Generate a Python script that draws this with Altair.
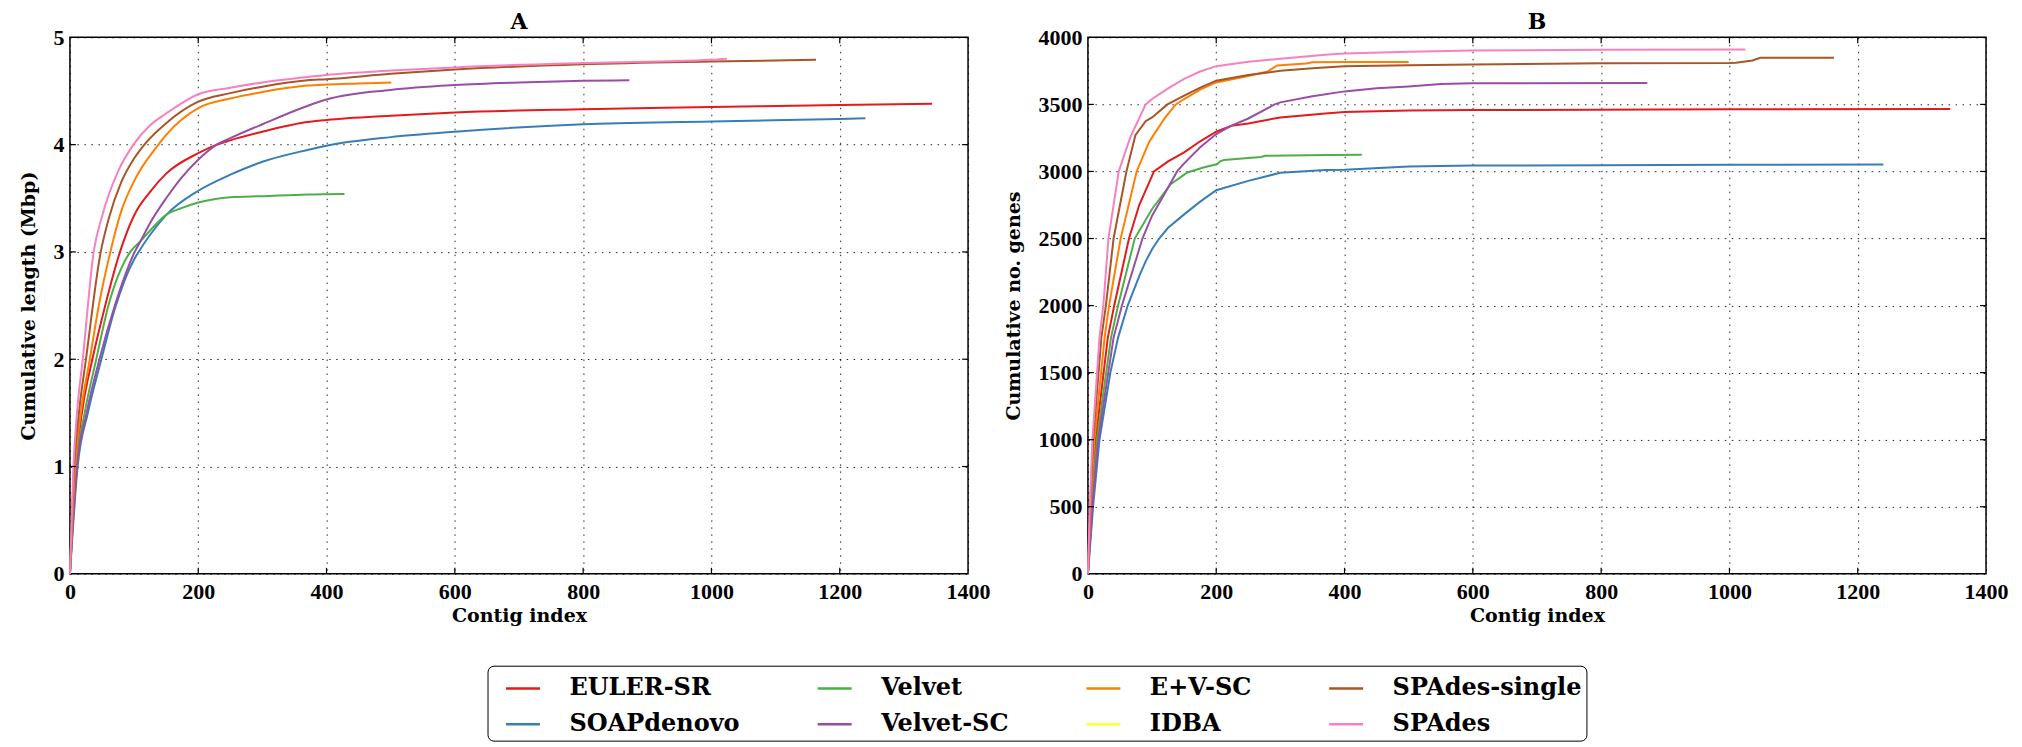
import altair as alt
import pandas as pd

# ---------------- legend / series ----------------
ASSEMBLERS = ["EULER-SR", "SOAPdenovo", "Velvet", "Velvet-SC", "E+V-SC", "IDBA", "SPAdes-single", "SPAdes"]
COLORS = {
    "EULER-SR": "#e41a1c", "SOAPdenovo": "#377eb8", "Velvet": "#4daf4a", "Velvet-SC": "#984ea3",
    "E+V-SC": "#ff7f00", "IDBA": "#ffff33", "SPAdes-single": "#a65628", "SPAdes": "#f781bf",
}

# ---------------- panel A: cumulative length (Mbp) ----------------
A_euler_x = [0, 9, 20, 35, 50, 78, 100, 125, 150, 200, 229, 250, 300, 370, 400, 500, 600, 800, 1000, 1200, 1344]
A_euler_y = [0, 1.0, 1.55, 2.0, 2.38, 3.0, 3.34, 3.56, 3.73, 3.92, 4.0, 4.04, 4.12, 4.21, 4.23, 4.27, 4.30, 4.33, 4.35, 4.37, 4.38]
A_soap_x = [0, 12, 28, 49, 70, 100, 107, 125, 151, 200, 250, 300, 370, 400, 500, 600, 800, 1000, 1200, 1240]
A_soap_y = [0, 1.0, 1.5, 2.0, 2.47, 2.93, 3.0, 3.16, 3.35, 3.57, 3.72, 3.84, 3.95, 3.99, 4.07, 4.12, 4.19, 4.215, 4.24, 4.245]
A_velvet_x = [0, 10, 23, 41, 60, 94, 110, 125, 151, 175, 200, 250, 300, 370, 428]
A_velvet_y = [0, 1.0, 1.5, 2.0, 2.5, 3.0, 3.1, 3.2, 3.35, 3.41, 3.46, 3.51, 3.52, 3.535, 3.54]
A_vsc_x = [0, 11, 26, 46, 70, 101, 110, 125, 150, 175, 200, 229, 250, 300, 370, 400, 500, 600, 700, 800, 872]
A_vsc_y = [0, 1.0, 1.5, 2.0, 2.5, 3.0, 3.1, 3.27, 3.50, 3.70, 3.86, 4.0, 4.06, 4.19, 4.36, 4.42, 4.51, 4.555, 4.58, 4.595, 4.60]
A_ev_x = [0, 8, 17, 31, 45, 63, 80, 100, 138, 150, 200, 250, 300, 370, 400, 450, 501]
A_ev_y = [0, 1.0, 1.5, 2.0, 2.5, 3.0, 3.38, 3.66, 4.0, 4.09, 4.34, 4.43, 4.49, 4.55, 4.56, 4.57, 4.58]
A_spsingle_x = [0, 6.5, 14, 25, 48, 60, 80, 100, 116, 150, 200, 250, 300, 370, 400, 500, 600, 800, 1000, 1163]
A_spsingle_y = [0, 1.0, 1.5, 2.0, 3.0, 3.3, 3.65, 3.87, 4.0, 4.2, 4.40, 4.48, 4.54, 4.60, 4.61, 4.66, 4.70, 4.75, 4.775, 4.79]
A_spades_x = [0, 5.5, 11, 20, 37, 50, 75, 99, 125, 150, 200, 250, 300, 370, 400, 500, 600, 800, 1000, 1024]
A_spades_y = [0, 1.0, 1.5, 2.0, 3.0, 3.33, 3.75, 4.0, 4.18, 4.29, 4.47, 4.53, 4.58, 4.63, 4.65, 4.69, 4.72, 4.76, 4.79, 4.80]

# ---------------- panel B: cumulative number of genes ----------------
B_euler_x = [0, 5, 12, 31, 41, 64, 80, 103, 125, 150, 175, 200, 223, 250, 300, 370, 400, 500, 600, 1000, 1344]
B_euler_y = [0, 500, 1000, 1761, 2000, 2500, 2750, 3000, 3075, 3142, 3225, 3296, 3340, 3358, 3403, 3433, 3443, 3455, 3458, 3463, 3465]
B_soap_x = [0, 8, 18, 35, 47, 62, 80, 90, 100, 111, 125, 150, 175, 200, 250, 300, 370, 400, 500, 600, 800, 1000, 1240]
B_soap_y = [0, 500, 1000, 1500, 1761, 2000, 2220, 2330, 2420, 2500, 2580, 2680, 2775, 2860, 2930, 2990, 3010, 3013, 3037, 3044, 3046, 3050, 3052]
B_velvet_x = [0, 6, 14, 36, 47, 73, 100, 129, 155, 180, 202, 206, 212, 250, 270, 276, 374, 427]
B_velvet_y = [0, 500, 1000, 1761, 2000, 2500, 2720, 2905, 2992, 3030, 3055, 3075, 3085, 3100, 3108, 3117, 3122, 3124]
B_vsc_x = [0, 7, 16, 40, 53, 85, 100, 125, 139, 150, 175, 200, 223, 250, 291, 300, 350, 400, 450, 500, 550, 600, 872]
B_vsc_y = [0, 500, 1000, 1761, 2000, 2500, 2670, 2880, 3000, 3060, 3180, 3279, 3340, 3395, 3500, 3515, 3560, 3597, 3620, 3634, 3652, 3657, 3660]
B_ev_x = [0, 4, 10, 26, 33, 51, 76, 95, 100, 120, 137, 150, 175, 200, 250, 280, 295, 340, 350, 400, 500]
B_ev_y = [0, 500, 1000, 1761, 2000, 2500, 3000, 3216, 3254, 3400, 3500, 3540, 3610, 3664, 3711, 3745, 3790, 3805, 3815, 3816, 3816]
B_spsingle_x = [0, 3.5, 8, 21, 28, 40, 60, 74, 90, 100, 124, 150, 175, 200, 250, 300, 350, 400, 500, 600, 800, 1000, 1010, 1036, 1048, 1163]
B_spsingle_y = [0, 500, 1000, 1761, 2000, 2500, 3000, 3270, 3375, 3403, 3500, 3565, 3625, 3677, 3719, 3750, 3770, 3784, 3791, 3798, 3806, 3808, 3810, 3828, 3848, 3848]
B_spades_x = [0, 3, 7, 18, 24, 32, 48, 66, 90, 100, 125, 150, 175, 200, 250, 300, 370, 400, 500, 600, 800, 1025]
B_spades_y = [0, 500, 1000, 1761, 2000, 2500, 3000, 3254, 3500, 3540, 3620, 3690, 3745, 3785, 3818, 3840, 3870, 3880, 3893, 3902, 3908, 3910]

A_SERIES = [
    ("EULER-SR", A_euler_x, A_euler_y), ("SOAPdenovo", A_soap_x, A_soap_y),
    ("Velvet", A_velvet_x, A_velvet_y), ("Velvet-SC", A_vsc_x, A_vsc_y),
    ("E+V-SC", A_ev_x, A_ev_y), ("SPAdes-single", A_spsingle_x, A_spsingle_y),
    ("SPAdes", A_spades_x, A_spades_y),
]
B_SERIES = [
    ("EULER-SR", B_euler_x, B_euler_y), ("SOAPdenovo", B_soap_x, B_soap_y),
    ("Velvet", B_velvet_x, B_velvet_y), ("Velvet-SC", B_vsc_x, B_vsc_y),
    ("E+V-SC", B_ev_x, B_ev_y), ("SPAdes-single", B_spsingle_x, B_spsingle_y),
    ("SPAdes", B_spades_x, B_spades_y),
]

X_TICKS = [0, 200, 400, 600, 800, 1000, 1200, 1400]
A_Y_TICKS = [0, 1, 2, 3, 4, 5]
B_Y_TICKS = [0, 500, 1000, 1500, 2000, 2500, 3000, 3500, 4000]

W, H = 899, 537
TICK = 6


def to_df(series):
    rows = []
    for name, xs, ys in series:
        for i, (x, y) in enumerate(zip(xs, ys)):
            rows.append({"assembler": name, "x": x, "y": y, "i": i})
    return pd.DataFrame(rows)


color = alt.Color(
    "assembler:N",
    scale=alt.Scale(domain=ASSEMBLERS, range=[COLORS[n] for n in ASSEMBLERS]),
    legend=alt.Legend(
        orient="none", legendX=418, legendY=629, columns=4, title=None,
        symbolType="stroke", symbolSize=1156, symbolStrokeWidth=2.5, symbolOffset=13,
        labelFont="DejaVu Serif", labelFontSize=24, labelFontWeight="bold", labelColor="black",
        labelOffset=28, columnPadding=63, rowPadding=5, padding=4, labelLimit=400,
        strokeColor="black", cornerRadius=6, fillColor="white",
    ),
)


def panel(series, ymax, yticks, ytitle, title, interp):
    df = to_df(series)
    x = alt.X("x:Q", scale=alt.Scale(domain=[0, 1400], nice=False, zero=False),
              axis=alt.Axis(values=X_TICKS, title="Contig index", format="d",
                            labelPadding=8, titlePadding=4))
    y = alt.Y("y:Q", scale=alt.Scale(domain=[0, ymax], nice=False),
              axis=alt.Axis(values=yticks, title=ytitle, format="d",
                            labelPadding=6, titlePadding=14))
    lines = alt.Chart(df).mark_line(strokeWidth=2, interpolate=interp).encode(
        x=x, y=y, color=color, detail="assembler:N", order="i:Q",
    )
    xt = pd.DataFrame({"x": X_TICKS[1:-1]})
    yt = pd.DataFrame({"y": yticks[1:-1]})
    tk = dict(color="black", strokeWidth=1.2)
    t_bottom = alt.Chart(xt).mark_rule(**tk).encode(x="x:Q", y=alt.value(H), y2=alt.value(H - TICK))
    t_top = alt.Chart(xt).mark_rule(**tk).encode(x="x:Q", y=alt.value(0), y2=alt.value(TICK))
    t_left = alt.Chart(yt).mark_rule(**tk).encode(y="y:Q", x=alt.value(0), x2=alt.value(TICK))
    t_right = alt.Chart(yt).mark_rule(**tk).encode(y="y:Q", x=alt.value(W - TICK), x2=alt.value(W))
    return alt.layer(lines, t_bottom, t_top, t_left, t_right).properties(
        width=W, height=H,
        title=alt.Title(title, font="DejaVu Serif", fontSize=22, fontWeight="bold",
                        color="black", offset=-8, frame="group"),
    )


pa = panel(A_SERIES, 5, A_Y_TICKS, "Cumulative length (Mbp)", "A", "monotone")
pb = panel(B_SERIES, 4000, B_Y_TICKS, "Cumulative no. genes", "B", "linear")

chart = alt.hconcat(pa, pb, spacing=120, bounds="flush").properties(
    padding={"left": 11, "top": 2, "right": 5, "bottom": 0},
    background="white",
).configure_view(
    stroke="black", strokeWidth=1.5,
).configure_axis(
    domain=False, ticks=False, grid=True, gridColor="black", gridDash=[1.5, 5.5],
    gridWidth=1, gridOpacity=0.85,
    labelFont="Liberation Serif", labelFontSize=22, labelFontWeight="bold", labelColor="black",
    titleFont="DejaVu Serif", titleFontSize=19, titleFontWeight="bold", titleColor="black",
    labelFlush=False, labelOverlap=False,
)

chart.save("out.html", embed_options={"renderer": "svg", "actions": False})
